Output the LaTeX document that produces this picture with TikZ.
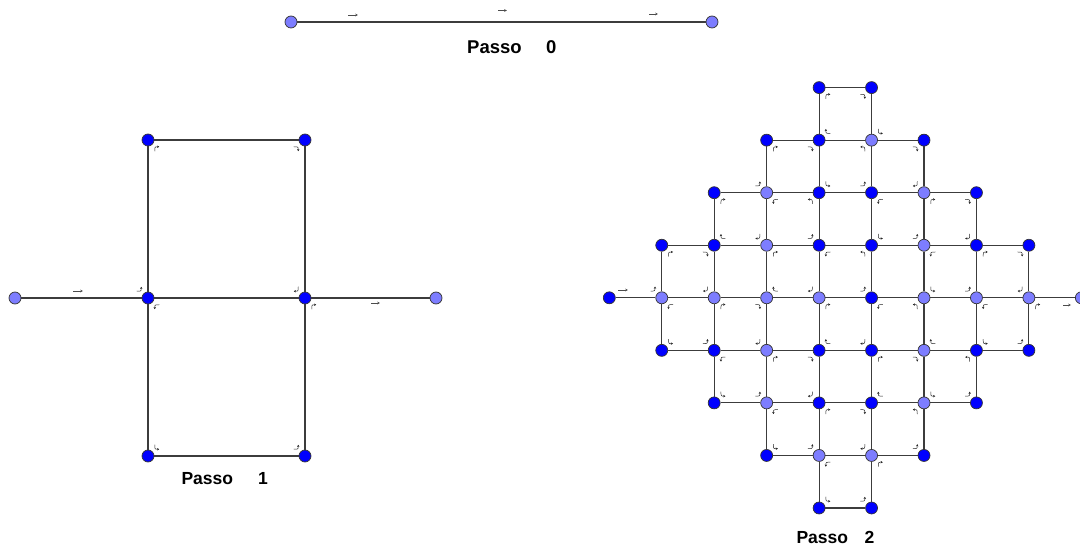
\documentclass[tikz,border=0pt]{standalone}
\usepackage{fontspec}
\setmainfont{Liberation Sans}
\usetikzlibrary{arrows.meta}
\definecolor{darkpt}{RGB}{0,0,255}
\definecolor{lightpt}{RGB}{125,125,255}
\definecolor{edgecol}{RGB}{60,60,60}
\def\rsdxE{1}\def\rsdyE{0}
\def\rsdxN{0}\def\rsdyN{1}
\def\rsdxW{-1}\def\rsdyW{0}
\def\rsdxS{0}\def\rsdyS{-1}
\def\toff{9}
\def\trad{4.5}
\newcommand\turnat[3]{%
  \pgfmathsetmacro\tax{\csname rsdx#2\endcsname}%
  \pgfmathsetmacro\tay{\csname rsdy#2\endcsname}%
  \pgfmathsetmacro\tbx{\csname rsdx#3\endcsname}%
  \pgfmathsetmacro\tby{\csname rsdy#3\endcsname}%
  \pgfmathsetmacro\tsx{\toff*((\tbx)-(\tax))-0.5*\trad*((\tax)+(\tbx))}%
  \pgfmathsetmacro\tsy{\toff*((\tby)-(\tay))-0.5*\trad*((\tay)+(\tby))}%
  \pgfmathsetmacro\tkx{\tsx+\trad*(\tax)}%
  \pgfmathsetmacro\tky{\tsy+\trad*(\tay)}%
  \pgfmathsetmacro\tex{\tkx+\trad*(\tbx)}%
  \pgfmathsetmacro\tey{\tky+\trad*(\tby)}%
  \draw[turnarr, shift={(#1)}] (\tsx pt,\tsy pt) .. controls (\tkx pt,\tky pt) .. (\tex pt,\tey pt);%
}
\begin{document}
\begin{tikzpicture}[x=1pt,y=-1pt,
  dk/.style={circle, draw=black!80, line width=0.7pt, fill=darkpt, minimum size=12pt, inner sep=0pt},
  lt/.style={circle, draw=black!80, line width=0.7pt, fill=lightpt, minimum size=12pt, inner sep=0pt},
  edge/.style={draw=edgecol, line width=1.1pt},
  turnarr/.style={draw=black!85, line width=0.5pt, -{Stealth[length=2.2pt,width=2.4pt]}},
  straightarr/.style={draw=black!70, line width=0.6pt, -{Stealth[length=2.8pt,width=2.6pt]}},
  lbl/.style={font=\fontsize{17.5}{20}\selectfont\bfseries, inner sep=0pt, anchor=base west}]
\useasboundingbox (0,0) rectangle (1080,545);

% ---------- Step 0 ----------
\node[lt] (z0) at (291,22) {};
\node[lt] (z1) at (712,22) {};
\draw[edge] (z0) -- (z1);
\draw[straightarr] (348,15) -- (358,15);
\draw[straightarr] (498,10.5) -- (507,10.5);
\draw[straightarr] (649,14) -- (658,14);
\node[lbl, font=\fontsize{18.5}{20}\selectfont\bfseries] (t0) at (467,54) {Passo\hspace{24.5pt}0};

% ---------- Step 1 ----------
\node[lt] (aL) at (15,298) {};
\node[dk] (aA) at (148,298) {};
\node[dk] (aB) at (305,298) {};
\node[lt] (aR) at (436,298) {};
\node[dk] (aTA) at (148,140) {};
\node[dk] (aTB) at (305,140) {};
\node[dk] (aBA) at (148,456) {};
\node[dk] (aBB) at (305,456) {};
\draw[edge] (aL) -- (aA);
\draw[edge] (aA) -- (aB);
\draw[edge] (aB) -- (aR);
\draw[edge] (aA) -- (aTA);
\draw[edge] (aTA) -- (aTB);
\draw[edge] (aTB) -- (aB);
\draw[edge] (aA) -- (aBA);
\draw[edge] (aBA) -- (aBB);
\draw[edge] (aBB) -- (aB);
\draw[straightarr] (73,291) -- (83,291);
\draw[straightarr] (371,303) -- (380,303);
\foreach \v/\a/\b in {aA/E/N, aTA/N/E, aTB/E/S, aB/S/W, aA/W/S, aBA/S/E, aBB/E/N, aB/N/E}{\turnat{\v}{\a}{\b}}
\node[lbl] (t1) at (181.3,484.7) {Passo\hspace{25pt}1};

% ---------- Step 2 ----------
\foreach \r/\c/\s in {0/4/dk,0/5/dk,
  1/3/dk,1/4/dk,1/5/lt,1/6/dk,
  2/2/dk,2/3/lt,2/4/dk,2/5/dk,2/6/lt,2/7/dk,
  3/1/dk,3/2/dk,3/3/lt,3/4/dk,3/5/dk,3/6/lt,3/7/dk,3/8/dk,
  4/0/dk,4/1/lt,4/2/lt,4/3/lt,4/4/lt,4/5/dk,4/6/lt,4/7/lt,4/8/lt,4/9/lt,
  5/1/dk,5/2/dk,5/3/lt,5/4/dk,5/5/dk,5/6/lt,5/7/dk,5/8/dk,
  6/2/dk,6/3/lt,6/4/dk,6/5/dk,6/6/lt,6/7/dk,
  7/3/dk,7/4/lt,7/5/lt,7/6/dk,
  8/4/dk,8/5/dk}{
  \node[\s] (g\c-\r) at ({609.3+52.45*\c},{87.6+52.55*\r}) {};
}
\foreach \r/\a/\b in {0/4/5,1/3/6,2/2/7,3/1/8,4/0/9,5/1/8,6/2/7,7/3/6,8/4/5}{
  \pgfmathtruncatemacro\bm{\b-1}
  \foreach \c in {\a,...,\bm}{
    \pgfmathtruncatemacro\cn{\c+1}
    \draw[edge] (g\c-\r) -- (g\cn-\r);
  }
}
\foreach \r/\a/\b in {0/4/5,1/3/6,2/2/7,3/1/8,4/1/8,5/2/7,6/3/6,7/4/5}{
  \pgfmathtruncatemacro\rn{\r+1}
  \foreach \c in {\a,...,\b}{
    \draw[edge] (g\c-\r) -- (g\c-\rn);
  }
}
\draw[straightarr] (618,290) -- (628,290);
\draw[straightarr] (1063,305) -- (1071,305);
\foreach \v/\a/\b in {
  g1-4/E/N, g1-3/N/E, g2-3/E/S, g2-4/S/W, g1-4/W/S, g1-5/S/E, g2-5/E/N, g2-4/N/E, g3-4/E/S,
  g3-5/S/W, g2-5/W/S, g2-6/S/E, g3-6/E/N, g3-5/N/E, g4-5/E/S, g4-6/S/W, g3-6/W/S, g3-7/S/E,
  g4-7/E/N, g4-6/N/E, g5-6/E/S, g5-7/S/W, g4-7/W/S, g4-8/S/E, g5-8/E/N, g5-7/N/E, g6-7/E/N,
  g6-6/N/W, g5-6/W/N, g5-5/N/E, g6-5/E/S, g6-6/S/E, g7-6/E/N, g7-5/N/W, g6-5/W/N, g6-4/N/W,
  g5-4/W/S, g5-5/S/W, g4-5/W/N, g4-4/N/E, g5-4/E/N, g5-3/N/W, g4-3/W/S, g4-4/S/W, g3-4/W/N,
  g3-3/N/E, g4-3/E/N, g4-2/N/W, g3-2/W/S, g3-3/S/W, g2-3/W/N, g2-2/N/E, g3-2/E/N, g3-1/N/E,
  g4-1/E/S, g4-2/S/E, g5-2/E/N, g5-1/N/W, g4-1/W/N, g4-0/N/E, g5-0/E/S, g5-1/S/E, g6-1/E/S,
  g6-2/S/W, g5-2/W/S, g5-3/S/E, g6-3/E/N, g6-2/N/E, g7-2/E/S, g7-3/S/W, g6-3/W/S, g6-4/S/E,
  g7-4/E/N, g7-3/N/E, g8-3/E/S, g8-4/S/W, g7-4/W/S, g7-5/S/E, g8-5/E/N, g8-4/N/E}{\turnat{\v}{\a}{\b}}
\node[lbl] (t2) at (796.3,543.3) {Passo\hspace{16.6pt}2};
\end{tikzpicture}
\end{document}
